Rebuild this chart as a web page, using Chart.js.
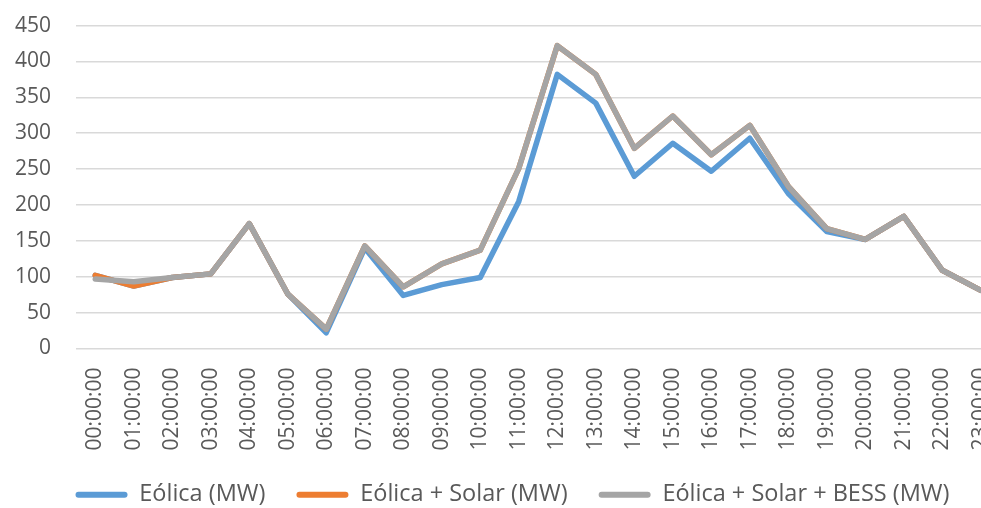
<!DOCTYPE html>
<html>
<head>
<meta charset="utf-8">
<script src="https://cdn.jsdelivr.net/npm/chart.js@4/dist/chart.umd.min.js"></script>
<style>
  html, body { margin: 0; padding: 0; background: #fff; overflow: hidden; }
  #wrap { position: relative; width: 1025px; height: 520px; margin-top: -12px; }
</style>
</head>
<body>
<div id="wrap"><canvas id="c"></canvas></div>
<script>
// Hourly generation profile (MW)
const hours = ['00:00:00','01:00:00','02:00:00','03:00:00','04:00:00','05:00:00',
  '06:00:00','07:00:00','08:00:00','09:00:00','10:00:00','11:00:00',
  '12:00:00','13:00:00','14:00:00','15:00:00','16:00:00','17:00:00',
  '18:00:00','19:00:00','20:00:00','21:00:00','22:00:00','23:00:00'];

const eolica = [102, 87, 99, 104, 174, 76, 22, 140, 74, 89, 99, 205,
  382, 342, 240, 286, 247, 293, 216, 163, 152, 184, 109, 81];

const eolicaSolar = [102, 87, 99, 104, 174, 76, 27, 143, 86, 118, 137, 251,
  422, 382, 279, 324, 270, 311, 226, 167, 152, 184, 109, 81];

const eolicaSolarBess = [97, 93, 99, 104, 174, 76, 27, 143, 86, 118, 137, 251,
  422, 382, 279, 324, 270, 311, 226, 167, 152, 184, 109, 81];

const seriesNames = ['Eólica (MW)', 'Eólica + Solar (MW)', 'Eólica + Solar + BESS (MW)'];
const seriesColors = ['#5B9BD5', '#ED7D31', '#A5A5A5'];

const FONT = '"Open Sans", "Liberation Sans", sans-serif';
const TEXT = '#595959';

// later series are painted over earlier ones (lower order = on top)
function series(i, data, order) {
  return {
    label: seriesNames[i],
    data: data,
    borderColor: seriesColors[i],
    backgroundColor: seriesColors[i],
    borderWidth: 5.5,
    borderJoinStyle: 'round',
    borderCapStyle: 'round',
    pointRadius: 0,
    pointHoverRadius: 0,
    tension: 0,
    fill: false,
    order: order
  };
}

new Chart(document.getElementById('c'), {
  type: 'line',
  data: {
    labels: hours,
    datasets: [
      series(0, eolica, 2),
      series(1, eolicaSolar, 1),
      series(2, eolicaSolarBess, 0)
    ]
  },
  options: {
    responsive: true,
    maintainAspectRatio: false,
    animation: false,
    events: [],
    layout: { padding: { top: 13, right: 0, bottom: -8.5, left: 0 } },
    plugins: {
      tooltip: { enabled: false },
      legend: {
        position: 'bottom',
        labels: {
          font: { family: FONT, size: 23.5 },
          color: TEXT,
          boxWidth: 52,
          boxHeight: 6,
          padding: 31,
          useBorderRadius: true,
          borderRadius: 3,
          sort: (a, b) => a.datasetIndex - b.datasetIndex,
          generateLabels(chart) {
            const items = Chart.defaults.plugins.legend.labels.generateLabels(chart);
            items.forEach(it => { it.lineWidth = 0; it.fillStyle = it.strokeStyle; });
            return items;
          }
        }
      }
    },
    scales: {
      x: {
        offset: true,
        grid: { display: false, drawTicks: false },
        border: { display: false },
        ticks: {
          font: { family: FONT, size: 21 },
          color: TEXT,
          minRotation: 90,
          maxRotation: 90,
          autoSkip: false,
          padding: 19
        },
        afterFit(scale) { scale.height = 103.5; }
      },
      y: {
        min: 0,
        max: 450,
        grid: { color: '#D9D9D9', lineWidth: 1.5, drawTicks: false },
        border: { display: false },
        ticks: {
          stepSize: 50,
          font: { family: FONT, size: 21 },
          color: TEXT,
          padding: 25
        },
        afterFit(scale) { scale.width = 76; }
      }
    }
  }
});
</script>
</body>
</html>
